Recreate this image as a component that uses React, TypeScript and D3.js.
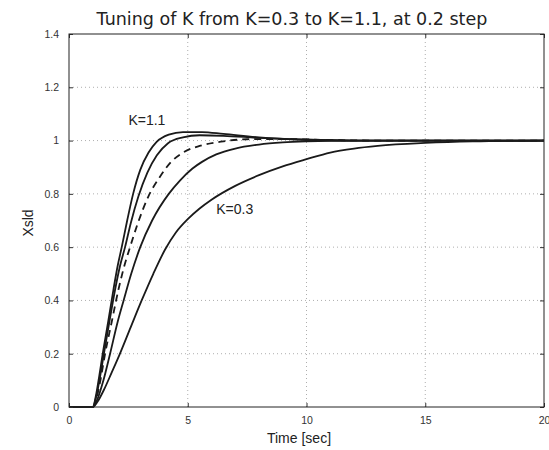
import { useEffect, useRef } from 'react';
import * as d3 from 'd3';

// step responses, [time, Xsld]
const k03 = [[0, 0], [1, 0], [1.2, 0.02], [1.5, 0.07], [1.8, 0.13], [2.12, 0.195], [2.6, 0.3], [3.06, 0.4], [3.55, 0.5], [4.04, 0.59], [4.5, 0.655], [5, 0.705], [5.5, 0.745], [6, 0.778], [7, 0.83], [8, 0.87], [9, 0.903], [10, 0.93], [11, 0.955], [12, 0.97], [13, 0.98], [15, 0.991], [17, 0.997], [20, 1.0]];
const k05 = [[0, 0], [1, 0], [1.2, 0.03], [1.45, 0.1], [1.73, 0.2], [2.05, 0.32], [2.3, 0.4], [2.62, 0.5], [3.0, 0.6], [3.5, 0.7], [4.2, 0.8], [4.67, 0.85], [5.2, 0.895], [5.6, 0.92], [6.2, 0.948], [7, 0.97], [8, 0.985], [9, 0.993], [10, 0.997], [12, 1.0], [20, 1.0]];
const k07 = [[0, 0], [1, 0], [1.15, 0.03], [1.3, 0.09], [1.52, 0.2], [1.8, 0.32], [2.08, 0.44], [2.3, 0.52], [2.57, 0.6], [2.9, 0.69], [3.34, 0.79], [3.8, 0.86], [4.3, 0.92], [4.8, 0.955], [5.5, 0.98], [6.5, 0.997], [7.5, 1.005], [9, 1.006], [11, 1.002], [13, 1.0], [20, 1.0]];
const k09 = [[0, 0], [1, 0], [1.15, 0.04], [1.3, 0.11], [1.47, 0.2], [1.7, 0.32], [1.94, 0.44], [2.15, 0.53], [2.36, 0.6], [2.6, 0.69], [2.92, 0.79], [3.3, 0.88], [3.7, 0.945], [4.17, 0.99], [4.8, 1.012], [5.5, 1.02], [6.5, 1.018], [8, 1.01], [10, 1.003], [12, 1.0], [20, 1.0]];
const k11 = [[0, 0], [1, 0], [1.15, 0.05], [1.28, 0.12], [1.42, 0.2], [1.65, 0.32], [1.87, 0.44], [2.05, 0.53], [2.22, 0.6], [2.45, 0.7], [2.7, 0.8], [3.0, 0.89], [3.35, 0.955], [3.69, 0.995], [4.2, 1.022], [4.8, 1.032], [5.6, 1.032], [6.5, 1.025], [8, 1.012], [10, 1.003], [12, 1.0], [20, 1.0]];

const series = [
  { name: 'K=0.3', pts: k03, dashed: false },
  { name: 'K=0.5', pts: k05, dashed: false },
  { name: 'K=0.7', pts: k07, dashed: true },
  { name: 'K=0.9', pts: k09, dashed: false },
  { name: 'K=1.1', pts: k11, dashed: false },
];

const xTicks = [0, 5, 10, 15, 20];
const yTicks = [0, 0.2, 0.4, 0.6, 0.8, 1, 1.2, 1.4];

export default function App() {
  const svgRef = useRef<SVGSVGElement>(null);

  useEffect(() => {
    const width = 549;
    const height = 450;
    const margin = { top: 34, right: 5, bottom: 43, left: 69 };
    const innerWidth = width - margin.left - margin.right;
    const innerHeight = height - margin.top - margin.bottom;

    const svg = d3.select(svgRef.current)
      .attr("width", width)
      .attr("height", height);
    svg.selectAll("*").remove();

    svg.append("rect").attr("width", width).attr("height", height).attr("fill", "white");

    const chart = svg.append("g")
      .attr("transform", `translate(${margin.left},${margin.top})`);

    const xScale = d3.scaleLinear().domain([0, 20]).range([0, innerWidth]);
    const yScale = d3.scaleLinear().domain([0, 1.4]).range([innerHeight, 0]);

    // dotted grid
    chart.selectAll(".gx").data(xTicks.slice(1, -1)).join("line")
      .attr("x1", d => xScale(d)).attr("x2", d => xScale(d))
      .attr("y1", 0).attr("y2", innerHeight)
      .attr("stroke", "#999").attr("stroke-width", 0.8).attr("stroke-dasharray", "1,3");
    chart.selectAll(".gy").data(yTicks.slice(1, -1)).join("line")
      .attr("y1", d => yScale(d)).attr("y2", d => yScale(d))
      .attr("x1", 0).attr("x2", innerWidth)
      .attr("stroke", "#999").attr("stroke-width", 0.8).attr("stroke-dasharray", "1,3");

    const line = d3.line<number[]>()
      .x(d => xScale(d[0]))
      .y(d => yScale(d[1]))
      .curve(d3.curveMonotoneX);

    chart.selectAll(".curve").data(series).join("path")
      .attr("class", "curve")
      .attr("d", d => line(d.pts))
      .attr("fill", "none")
      .attr("stroke", "#1a1a1a")
      .attr("stroke-width", 1.8)
      .attr("stroke-dasharray", d => d.dashed ? "7,5" : null);

    // box with inward ticks
    const axisStyle = (g: any) => {
      g.select(".domain").remove();
      g.selectAll("text").attr("font-family", "Arial, 'Liberation Sans', sans-serif").attr("font-size", 10.5).attr("fill", "#333");
      g.selectAll(".tick line").attr("stroke", "#333");
    };
    chart.append("g").attr("transform", `translate(0,${innerHeight})`)
      .call(d3.axisBottom(xScale).tickValues(xTicks).tickSizeInner(-4).tickPadding(10).tickFormat(d3.format("~g")))
      .call(axisStyle);
    chart.append("g")
      .call(d3.axisLeft(yScale).tickValues(yTicks).tickSizeInner(-4).tickPadding(10).tickFormat(d3.format("~g")))
      .call(axisStyle);
    chart.append("g")
      .call(d3.axisTop(xScale).tickValues(xTicks).tickSizeInner(-4).tickFormat(() => ""))
      .call(axisStyle);
    chart.append("g").attr("transform", `translate(${innerWidth},0)`)
      .call(d3.axisRight(yScale).tickValues(yTicks).tickSizeInner(-4).tickFormat(() => ""))
      .call(axisStyle);
    chart.append("rect")
      .attr("width", innerWidth).attr("height", innerHeight)
      .attr("fill", "none").attr("stroke", "#222").attr("stroke-width", 1);

    const font = "Arial, 'Liberation Sans', sans-serif";

    chart.append("text")
      .attr("x", xScale(2.5)).attr("y", yScale(1.1) + 11)
      .attr("font-family", font).attr("font-size", 14).attr("fill", "#222")
      .text("K=1.1");
    chart.append("text")
      .attr("x", xScale(6.2)).attr("y", yScale(0.75) + 7)
      .attr("font-family", font).attr("font-size", 14).attr("fill", "#222")
      .text("K=0.3");

    svg.append("text")
      .attr("x", 292).attr("y", 25)
      .attr("text-anchor", "middle")
      .attr("font-family", "'DejaVu Sans', sans-serif").attr("font-size", 17.5).attr("fill", "#222")
      .text("Tuning of K from K=0.3 to K=1.1, at 0.2 step");

    chart.append("text")
      .attr("x", 230).attr("y", innerHeight + 36)
      .attr("text-anchor", "middle")
      .attr("font-family", font).attr("font-size", 14).attr("fill", "#222")
      .text("Time [sec]");

    chart.append("text")
      .attr("transform", "rotate(-90)")
      .attr("x", -(223 - margin.top)).attr("y", -36)
      .attr("text-anchor", "middle")
      .attr("font-family", font).attr("font-size", 14).attr("fill", "#222")
      .text("Xsld");
  }, []);

  return (
    <svg ref={svgRef} style={{ position: 'absolute', left: 0, top: 0 }}></svg>
  );
}
